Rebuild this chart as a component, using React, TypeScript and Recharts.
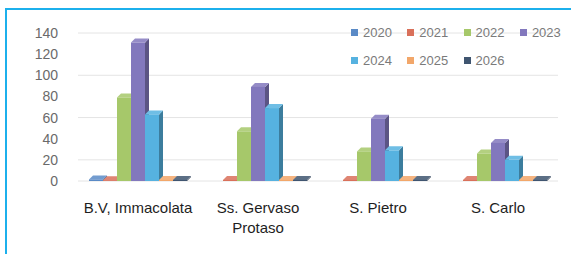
import React from 'react';
import { BarChart, Bar, XAxis, YAxis, CartesianGrid, Legend, Text } from 'recharts';

const categories = ['B.V, Immacolata', 'Ss. Gervaso Protaso', 'S. Pietro', 'S. Carlo'];
const years = ['2020', '2021', '2022', '2023', '2024', '2025', '2026'];

const v2020 = [1.5, 0, 0, 0];
const v2021 = [0.8, 1, 1, 1];
const v2022 = [79, 47, 28, 26];
const v2023 = [131, 89, 59, 36];
const v2024 = [63, 69, 29, 20];
const v2025 = [1, 1, 1, 1];
const v2026 = [1, 1, 1, 1];

const yTicks = [0, 20, 40, 60, 80, 100, 120, 140];

const colors = ['#5a8ac6', '#d9705a', '#a6c86a', '#8278bd', '#56b2e0', '#f2a76a', '#3f5570'];

const seriesValues = [v2020, v2021, v2022, v2023, v2024, v2025, v2026];

const data = categories.map((name, i) => {
  const row: Record<string, any> = { name };
  years.forEach((y, k) => {
    row[y] = seriesValues[k][i];
  });
  return row;
});

function shade(hex: string, f: number) {
  const n = parseInt(hex.slice(1), 16);
  const ch = [(n >> 16) & 255, (n >> 8) & 255, n & 255].map((c) =>
    f < 0 ? Math.round(c * (1 + f)) : Math.round(c + (255 - c) * f)
  );
  return 'rgb(' + ch.join(',') + ')';
}

// front face + darker side + lighter top, a cheap 3D look
function Bar3D(props: any) {
  const { x, y, width, height, fill } = props;
  if (!height || height < 0.3) return null;
  const d = 4;
  const side = `${x + width},${y} ${x + width + d},${y - d} ${x + width + d},${y + height - d} ${x + width},${y + height}`;
  const top = `${x},${y} ${x + d},${y - d} ${x + width + d},${y - d} ${x + width},${y}`;
  return (
    <g>
      <polygon points={side} fill={shade(fill, -0.3)} />
      <polygon points={top} fill={shade(fill, 0.15)} />
      <rect x={x} y={y} width={width} height={height} fill={fill} />
    </g>
  );
}

function CatTick(props: any) {
  const { x, y, payload } = props;
  return (
    <Text
      x={x}
      y={y}
      width={125}
      textAnchor="middle"
      verticalAnchor="start"
      lineHeight={20}
      fontSize={15}
      fill="#1e1e1e"
      fontFamily="'Liberation Sans', Arial, sans-serif"
    >
      {payload.value}
    </Text>
  );
}

function renderLegend(props: any) {
  const { payload } = props;
  return (
    <div style={{ display: 'flex', flexWrap: 'wrap', width: 240 }}>
      {payload.map((p: any) => (
        <div key={p.value} style={{ width: 56.3, height: 28, display: 'flex', alignItems: 'center' }}>
          <span style={{ width: 7, height: 7, background: p.color, marginRight: 5, display: 'inline-block' }} />
          <span style={{ fontSize: 13, color: '#7a7a7a', fontFamily: "'Liberation Sans', Arial, sans-serif" }}>{p.value}</span>
        </div>
      ))}
    </div>
  );
}

export default function App() {
  return (
    <div style={{ position: 'absolute', left: 0, top: 0, width: 571, height: 254, background: '#fff', overflow: 'hidden' }}>
      <div
        style={{
          position: 'absolute',
          left: 5,
          top: 8,
          width: 566,
          height: 246,
          borderLeft: '2px solid #1cb0ec',
          borderTop: '2px solid #1cb0ec',
        }}
      />
      <div style={{ position: 'absolute', left: 0, top: 0 }}>
        <BarChart
          width={571}
          height={254}
          data={data}
          margin={{ top: 33, right: 13, bottom: 13, left: 0 }}
          barCategoryGap={11}
          barGap={0}
        >
          <CartesianGrid vertical={false} stroke="#e4e4e4" />
          <XAxis
            dataKey="name"
            axisLine={false}
            tickLine={false}
            tickMargin={15}
            height={60}
            interval={0}
            tick={<CatTick />}
          />
          <YAxis
            domain={[0, 140]}
            ticks={yTicks}
            axisLine={false}
            tickLine={false}
            tickMargin={14}
            width={78}
            tick={{ fill: '#6a6a6a', fontSize: 14, fontFamily: "'Liberation Sans', Arial, sans-serif" }}
          />
          <Legend
            verticalAlign="middle"
            align="center"
            layout="horizontal"
            wrapperStyle={{ top: 18, left: 351, width: 240 }}
            content={renderLegend}
          />
          {years.map((y, k) => (
            <Bar key={y} dataKey={y} name={y} fill={colors[k]} shape={<Bar3D />} isAnimationActive={false} />
          ))}
        </BarChart>
      </div>
    </div>
  );
}
